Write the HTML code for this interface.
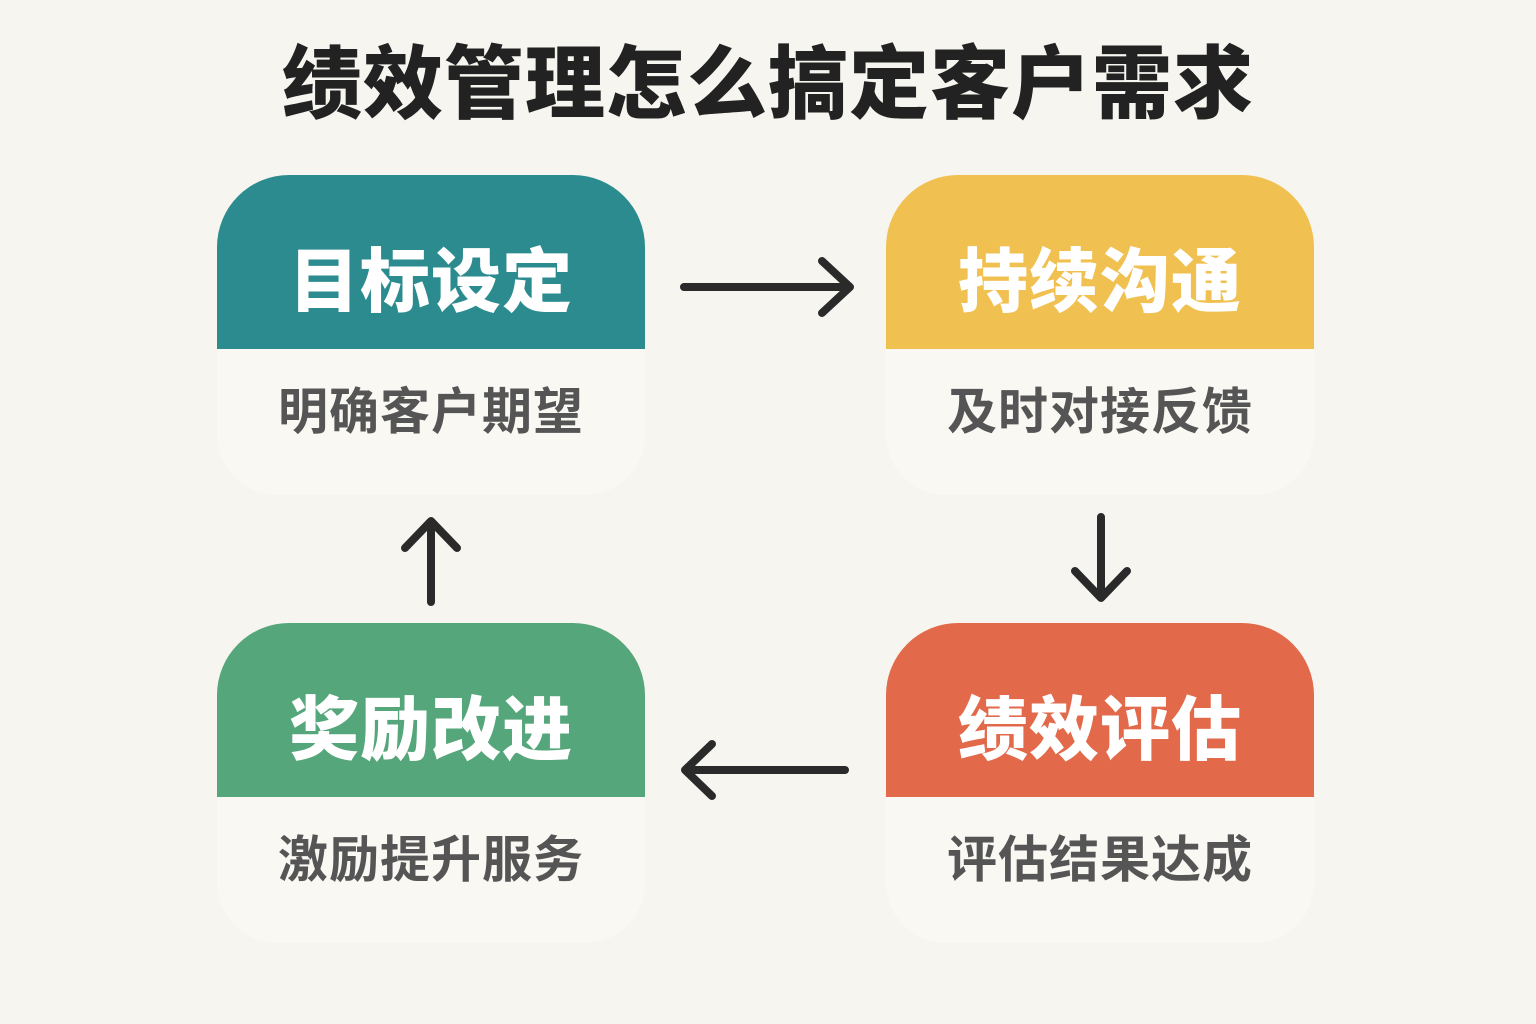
<!DOCTYPE html>
<html><head><meta charset="utf-8"><style>
html,body{margin:0;padding:0}
body{width:1536px;height:1024px;background:#f7f5f0;position:relative;overflow:hidden;font-family:"Liberation Sans","Noto Sans CJK SC",sans-serif}
.title{position:absolute;left:0;width:1536px;top:30px;text-align:center;font-size:80px;font-weight:900;color:#222;letter-spacing:1px;line-height:110px}
.card{position:absolute;width:428px;height:320px;border-radius:72px 72px 60px 60px;background:#faf8f3;overflow:hidden}
.hd{height:174px;color:#fff;font-size:70px;font-weight:900;text-align:center;line-height:214px;letter-spacing:1px}
.bd{font-size:50px;color:#555;text-align:center;line-height:126px;font-weight:700;letter-spacing:1px}
svg{position:absolute;left:0;top:0}
</style></head><body>
<div class="title">绩效管理怎么搞定客户需求</div>
<div class="card" style="left:217px;top:175px"><div class="hd" style="background:#2b8b8e">目标设定</div><div class="bd">明确客户期望</div></div>
<div class="card" style="left:886px;top:175px"><div class="hd" style="background:#f0c050">持续沟通</div><div class="bd">及时对接反馈</div></div>
<div class="card" style="left:217px;top:623px"><div class="hd" style="background:#55a67a">奖励改进</div><div class="bd">激励提升服务</div></div>
<div class="card" style="left:886px;top:623px"><div class="hd" style="background:#e2694a">绩效评估</div><div class="bd">评估结果达成</div></div>
<svg width="1536" height="1024" fill="none" stroke="#2a2a2a" stroke-width="8" stroke-linecap="round" stroke-linejoin="round">
<path d="M684 287H848M822 261L850 287L822 313"/>
<path d="M1101 517V597M1075 571L1101 598L1127 571"/>
<path d="M845 770H686M712 744L685 770L712 796"/>
<path d="M431 602V522M405 548L431 521L457 548"/>
</svg>
</body></html>
